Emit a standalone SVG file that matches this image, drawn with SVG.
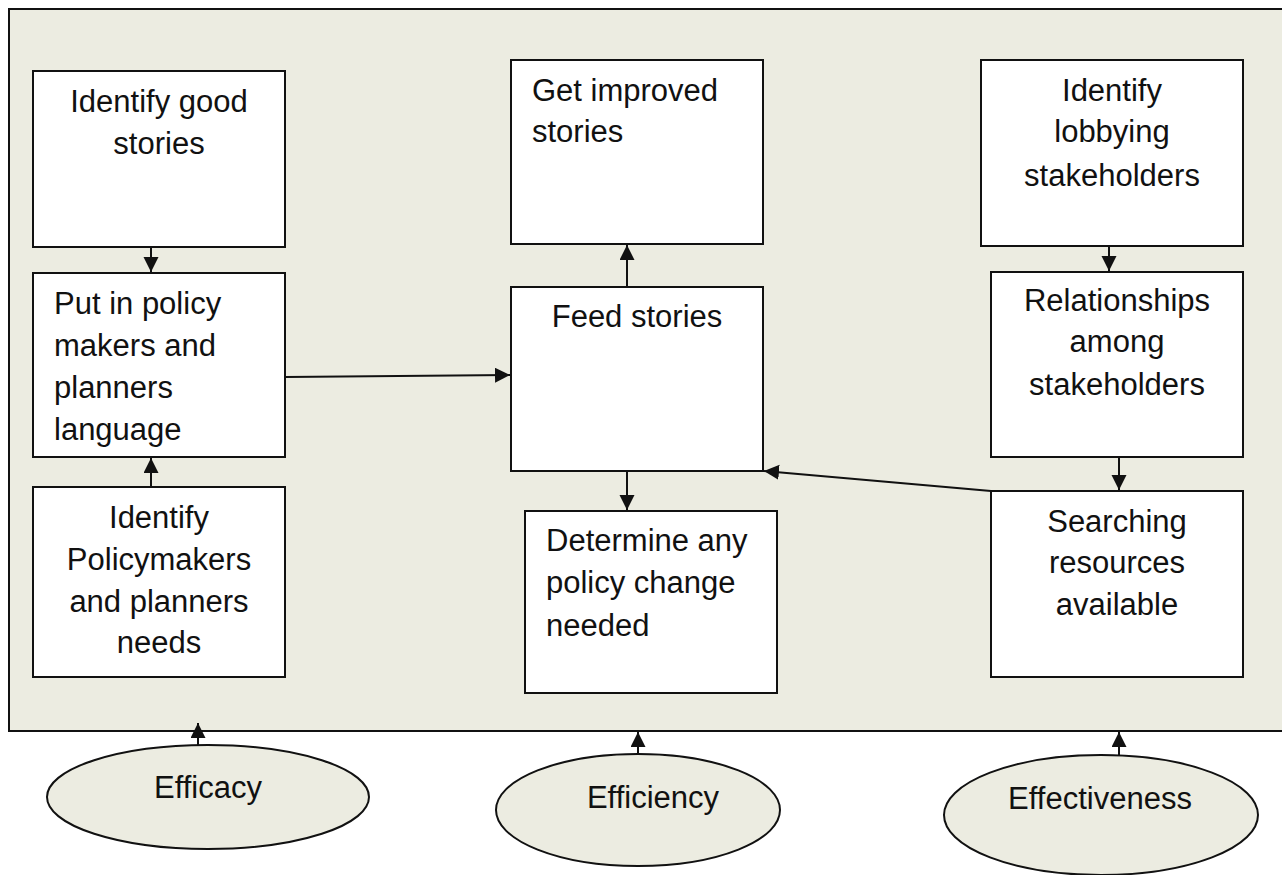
<svg xmlns="http://www.w3.org/2000/svg" width="1282" height="875" viewBox="0 0 1282 875">
  <style>
    .panel { fill: #ECECE1; stroke: #111; stroke-width: 2; }
    .box { fill: #fff; stroke: #111; stroke-width: 2; }
    .oval { fill: #ECECE1; stroke: #111; stroke-width: 2; }
    .lbl { font-family: "Liberation Sans", Arial, sans-serif; font-size: 31px; fill: #111; }
    .c { text-anchor: middle; }
    .conn line { stroke: #111; stroke-width: 2; fill: none; marker-end: url(#arrow); }
  </style>
  <defs>
    <marker id="arrow" markerUnits="userSpaceOnUse" markerWidth="16" markerHeight="16" refX="15" refY="7.5" orient="auto">
      <path d="M0,0 L15,7.5 L0,15 z" fill="#111"/>
    </marker>
  </defs>

  <rect width="1282" height="875" fill="#fff"/>
  <!-- shaded process panel -->
  <rect class="panel" x="9" y="9" width="1280" height="722"/>

  <!-- left column -->
  <g id="identify-good-stories">
    <rect class="box" x="33" y="71" width="252" height="176"/>
    <text class="lbl c" x="159" y="112">Identify good</text>
    <text class="lbl c" x="159" y="154">stories</text>
  </g>
  <g id="policy-language">
    <rect class="box" x="33" y="273" width="252" height="184"/>
    <text class="lbl" x="54" y="314">Put in policy</text>
    <text class="lbl" x="54" y="356">makers and</text>
    <text class="lbl" x="54" y="398">planners</text>
    <text class="lbl" x="54" y="440">language</text>
  </g>
  <g id="identify-policymakers">
    <rect class="box" x="33" y="487" width="252" height="190"/>
    <text class="lbl c" x="159" y="528">Identify</text>
    <text class="lbl c" x="159" y="570">Policymakers</text>
    <text class="lbl c" x="159" y="612">and planners</text>
    <text class="lbl c" x="159" y="653">needs</text>
  </g>

  <!-- middle column -->
  <g id="improved-stories">
    <rect class="box" x="511" y="60" width="252" height="184"/>
    <text class="lbl" x="532" y="101">Get improved</text>
    <text class="lbl" x="532" y="142">stories</text>
  </g>
  <g id="feed-stories">
    <rect class="box" x="511" y="287" width="252" height="184"/>
    <text class="lbl c" x="637" y="327">Feed stories</text>
  </g>
  <g id="policy-change">
    <rect class="box" x="525" y="511" width="252" height="182"/>
    <text class="lbl" x="546" y="551">Determine any</text>
    <text class="lbl" x="546" y="593">policy change</text>
    <text class="lbl" x="546" y="636">needed</text>
  </g>

  <!-- right column -->
  <g id="lobbying-stakeholders">
    <rect class="box" x="981" y="60" width="262" height="186"/>
    <text class="lbl c" x="1112" y="101">Identify</text>
    <text class="lbl c" x="1112" y="142">lobbying</text>
    <text class="lbl c" x="1112" y="186">stakeholders</text>
  </g>
  <g id="stakeholder-relationships">
    <rect class="box" x="991" y="272" width="252" height="185"/>
    <text class="lbl c" x="1117" y="311">Relationships</text>
    <text class="lbl c" x="1117" y="352">among</text>
    <text class="lbl c" x="1117" y="395">stakeholders</text>
  </g>
  <g id="searching-resources">
    <rect class="box" x="991" y="491" width="252" height="186"/>
    <text class="lbl c" x="1117" y="532">Searching</text>
    <text class="lbl c" x="1117" y="573">resources</text>
    <text class="lbl c" x="1117" y="615">available</text>
  </g>

  <!-- criteria ovals -->
  <g id="efficacy">
    <ellipse class="oval" cx="208" cy="797" rx="161" ry="52"/>
    <text class="lbl c" x="208" y="798">Efficacy</text>
  </g>
  <g id="efficiency">
    <ellipse class="oval" cx="638" cy="810" rx="142" ry="56"/>
    <text class="lbl c" x="653" y="808">Efficiency</text>
  </g>
  <g id="effectiveness">
    <ellipse class="oval" cx="1101" cy="815" rx="157" ry="60"/>
    <text class="lbl c" x="1100" y="809">Effectiveness</text>
  </g>

  <!-- connectors -->
  <g class="conn" id="connectors">
    <line x1="151" y1="247" x2="151" y2="272"/>
    <line x1="151" y1="487" x2="151" y2="458"/>
    <line x1="286" y1="377" x2="510" y2="375"/>
    <line x1="627" y1="287" x2="627" y2="245"/>
    <line x1="627" y1="471" x2="627" y2="510"/>
    <line x1="1109" y1="246" x2="1109" y2="271"/>
    <line x1="1119" y1="457" x2="1119" y2="490"/>
    <line x1="991" y1="491" x2="764" y2="471"/>
    <line x1="198" y1="745" x2="198" y2="723"/>
    <line x1="638" y1="754" x2="638" y2="732"/>
    <line x1="1119" y1="755" x2="1119" y2="732"/>
  </g>
</svg>
